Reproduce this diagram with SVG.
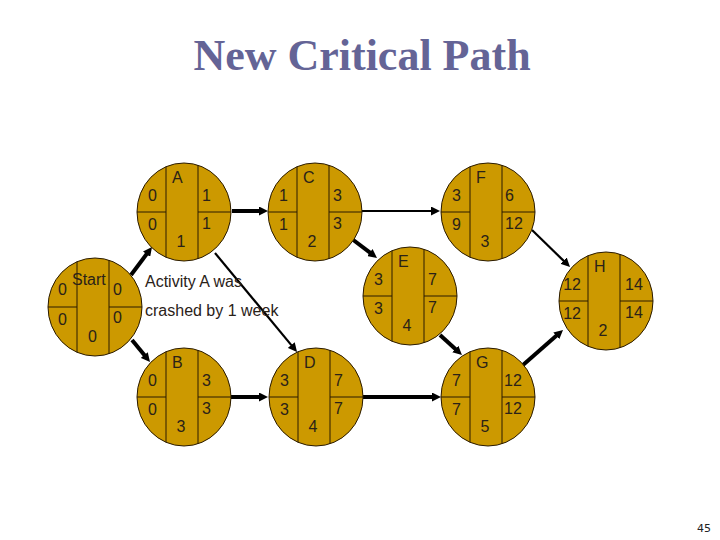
<svg xmlns="http://www.w3.org/2000/svg" width="720" height="540" viewBox="0 0 720 540">
<style>
text{font-family:"Liberation Sans",Arial,sans-serif;font-size:16px;fill:#2a2218}
.t{font-family:"Liberation Serif","Times New Roman",serif;font-weight:bold;font-size:44px;fill:#646496}
.nl{text-anchor:end}
.du{text-anchor:middle}
.pg{font-family:"DejaVu Sans",sans-serif;font-size:11px;fill:#222}
.c{stroke:#000;fill:none;marker-end:url(#ah)}
.k{stroke-width:4}
.n{stroke-width:2.2}
</style>
<defs>
<marker id="ah" viewBox="0 0 10 10" refX="3" refY="5" markerWidth="9" markerHeight="9" markerUnits="userSpaceOnUse" orient="auto">
<path d="M0,0L10,5L0,10z" fill="#000"/>
</marker>
<g id="nd">
<ellipse cx="0" cy="0" rx="47" ry="49" fill="#CC9900" stroke="#2a1a00" stroke-width="1"/>
<path d="M-18,-45.3V45.3M14,-46.8V46.8M-47,0H-18M14,0H47" stroke="#2a1a00" stroke-width="1" fill="none"/>
</g>
</defs>
<rect width="720" height="540" fill="#fff"/>
<text class="t" x="362" y="70" text-anchor="middle">New Critical Path</text>
<g id="connectors">
<path class="c k" d="M131,275L148.2,252"/>
<path class="c k" d="M132,340L146,357.1"/>
<path class="c k" d="M232,211H261.7"/>
<path class="c n" d="M215,253L293,347.1"/>
<path class="c k" d="M231,397H261.7"/>
<path class="c n" d="M362,211H433.7"/>
<path class="c k" d="M352,239L372,254.2"/>
<path class="c n" d="M532,230L565.5,262.6"/>
<path class="c k" d="M440,335L457.3,350.8"/>
<path class="c k" d="M363,397H434.7"/>
<path class="c k" d="M523,365L558.3,334.1"/>
</g>
<g id="node-start">
<use href="#nd" x="95" y="307"/>
<text x="72" y="285">Start</text>
<text class="nl" x="67" y="295">0</text><text class="nl" x="67" y="325">0</text>
<text x="113" y="295">0</text><text x="113" y="323">0</text>
<text class="du" x="92.5" y="342">0</text>
</g>
<g id="node-a">
<use href="#nd" x="184" y="212"/>
<text x="172" y="183">A</text>
<text class="nl" x="157" y="201">0</text><text class="nl" x="157" y="230">0</text>
<text x="202" y="201">1</text><text x="202" y="229">1</text>
<text class="du" x="181" y="247">1</text>
</g>
<g id="node-c">
<use href="#nd" x="315" y="212"/>
<text x="303" y="183">C</text>
<text class="nl" x="288" y="201">1</text><text class="nl" x="288" y="230">1</text>
<text x="333" y="201">3</text><text x="333" y="229">3</text>
<text class="du" x="312" y="247">2</text>
</g>
<g id="node-f">
<use href="#nd" x="488" y="212"/>
<text x="476" y="183">F</text>
<text class="nl" x="461" y="201">3</text><text class="nl" x="461" y="230">9</text>
<text x="505" y="201">6</text><text x="505" y="229">12</text>
<text class="du" x="485" y="247">3</text>
</g>
<g id="node-e">
<use href="#nd" x="410" y="296"/>
<text x="398" y="267">E</text>
<text class="nl" x="383" y="285">3</text><text class="nl" x="383" y="314">3</text>
<text x="428" y="285">7</text><text x="428" y="313">7</text>
<text class="du" x="407" y="331">4</text>
</g>
<g id="node-h">
<use href="#nd" x="606" y="301"/>
<text x="594" y="272">H</text>
<text class="nl" x="581" y="290">12</text><text class="nl" x="581" y="319">12</text>
<text x="625" y="290">14</text><text x="625" y="318">14</text>
<text class="du" x="603" y="336">2</text>
</g>
<g id="node-b">
<use href="#nd" x="184" y="397"/>
<text x="172" y="368">B</text>
<text class="nl" x="157" y="386">0</text><text class="nl" x="157" y="415">0</text>
<text x="202" y="386">3</text><text x="202" y="414">3</text>
<text class="du" x="181" y="432">3</text>
</g>
<g id="node-d">
<use href="#nd" x="316" y="397"/>
<text x="304" y="368">D</text>
<text class="nl" x="289" y="386">3</text><text class="nl" x="289" y="415">3</text>
<text x="334" y="386">7</text><text x="334" y="414">7</text>
<text class="du" x="313" y="432">4</text>
</g>
<g id="node-g">
<use href="#nd" x="488" y="397"/>
<text x="476" y="368">G</text>
<text class="nl" x="461" y="386">7</text><text class="nl" x="461" y="415">7</text>
<text x="504" y="386">12</text><text x="504" y="414">12</text>
<text class="du" x="485" y="432">5</text>
</g>
<g id="note">
<text x="145" y="287">Activity A was</text>
<text x="145" y="316">crashed by 1 week</text>
</g>
<text class="pg" x="697" y="532">45</text>
</svg>
